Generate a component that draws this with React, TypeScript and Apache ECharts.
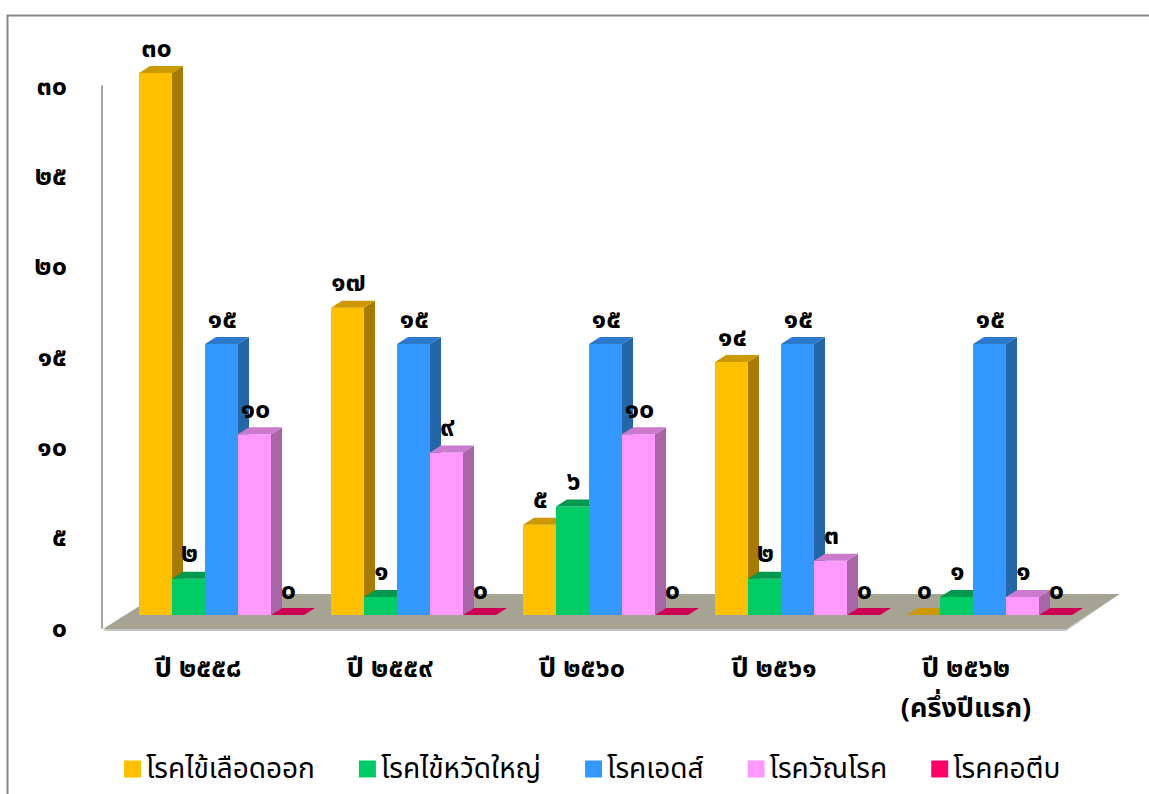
import React, { useEffect, useRef } from "react";
import * as echarts from "echarts";

const categories = ["ปี ๒๕๕๘", "ปี ๒๕๕๙", "ปี ๒๕๖๐", "ปี ๒๕๖๑", "ปี ๒๕๖๒\n(ครึ่งปีแรก)"];
const seriesNames = ["โรคไข้เลือดออก", "โรคไข้หวัดใหญ่", "โรคเอดส์", "โรควัณโรค", "โรคคอตีบ"];
const dengue = [30, 17, 5, 14, 0];
const influenza = [2, 1, 6, 2, 1];
const aids = [15, 15, 15, 15, 15];
const tuberculosis = [10, 9, 10, 3, 1];
const diphtheria = [0, 0, 0, 0, 0];
const yTicks = [0, 5, 10, 15, 20, 25, 30];

const allValues = [dengue, influenza, aids, tuberculosis, diphtheria];
const frontColors = ["#FFC000", "#00CC66", "#3399FF", "#FF99FF", "#FF0066"];
const sideColors = ["#A67C00", "#009950", "#2266A8", "#A866A8", "#A80044"];
const topColors = ["#CC9A00", "#00994D", "#2A7ACC", "#CC7ACC", "#CC0052"];

const THAI = "๐๑๒๓๔๕๖๗๘๙";
const toThai = (n: number | string) => String(n).replace(/\d/g, (d) => THAI[+d]);
const FONT = "'Noto Sans Thai', 'Noto Sans', Tahoma, sans-serif";

const BAR_W = 33;
const DX = 11;
const DY = -7;

export default function App() {
  const ref = useRef<HTMLDivElement>(null);
  useEffect(() => {
    if (!ref.current) return;
    const chart = echarts.init(ref.current, null, { renderer: "svg" });

    const barSeries = allValues.map((vals, si) => ({
      type: "custom",
      name: seriesNames[si],
      xAxisIndex: 1,
      yAxisIndex: 1,
      z: 3 + si,
      itemStyle: { color: frontColors[si] },
      data: vals.map((v, i) => [i, v]),
      renderItem: (params: any, api: any) => {
        const ci = api.value(0);
        const v = api.value(1);
        const base = api.coord([ci, 0]);
        const top = api.coord([ci, v]);
        const xL = base[0] - (BAR_W * 5) / 2 + BAR_W * si;
        const xR = xL + BAR_W;
        const yB = base[1];
        const yT = top[1];
        const children: any[] = [];
        if (v > 0) {
          children.push({
            type: "rect",
            shape: { x: xL, y: yT, width: BAR_W, height: yB - yT },
            style: { fill: frontColors[si] },
          });
          children.push({
            type: "polygon",
            shape: { points: [[xR, yT], [xR + DX, yT + DY], [xR + DX, yB + DY], [xR, yB]] },
            style: { fill: sideColors[si] },
          });
        }
        children.push({
          type: "polygon",
          shape: { points: [[xL, yT], [xL + DX, yT + DY], [xR + DX, yT + DY], [xR, yT]] },
          style: { fill: topColors[si] },
        });
        children.push({
          type: "text",
          x: xL + BAR_W / 2 + 1,
          y: yT - 25,
          style: {
            text: toThai(v),
            fill: "#000",
            font: `bold 27px ${FONT}`,
            align: "center",
            verticalAlign: "middle",
          },
        });
        return { type: "group", children };
      },
    }));

    const floorSeries = {
      type: "custom",
      name: "floor",
      xAxisIndex: 1,
      yAxisIndex: 1,
      z: 1,
      silent: true,
      data: [[0, 0]],
      renderItem: (params: any, api: any) => {
        const cs = params.coordSys;
        const base = api.coord([0, 0]);
        const yB = base[1];
        const left = cs.x;
        const right = cs.x + cs.width;
        return {
          type: "group",
          children: [
            {
              type: "polygon",
              shape: {
                points: [
                  [left - 22.5, yB + 16],
                  [left + 33, yB - 21],
                  [right + 34, yB - 21],
                  [right - 19.5, yB + 16],
                ],
              },
              style: { fill: "#C4C4C4" },
            },
            {
              type: "polygon",
              shape: {
                points: [
                  [left - 22.5, yB + 14],
                  [left + 33, yB - 21],
                  [right + 34, yB - 21],
                  [right - 19.5, yB + 14],
                ],
              },
              style: { fill: "#A6A394" },
            },
          ],
        };
      },
    };

    chart.setOption({
      animation: false,
      graphic: [
        {
          type: "rect",
          shape: { x: 7.5, y: 15.5, width: 1300, height: 1000 },
          style: { fill: "none", stroke: "#878787", lineWidth: 2 },
          silent: true,
        },
      ],
      legend: {
        top: 750,
        left: 119,
        icon: "rect",
        itemWidth: 17,
        itemHeight: 17,
        itemGap: 44,
        data: seriesNames,
        textStyle: { fontSize: 28, color: "#000", fontFamily: FONT },
      },
      grid: [
        { left: 102, top: 86, width: 960, height: 542 },
        { left: 125.5, top: 73, width: 960, height: 542 },
      ],
      xAxis: [
        {
          type: "category",
          gridIndex: 0,
          data: categories,
          axisLine: { show: false },
          axisTick: { show: false },
          axisLabel: {
            margin: 20,
            fontSize: 27,
            lineHeight: 40,
            color: "#000",
            fontFamily: FONT,
            fontWeight: "bold",
            verticalAlign: "top",
          },
        },
        {
          type: "category",
          gridIndex: 1,
          data: categories,
          show: false,
        },
      ],
      yAxis: [
        {
          type: "value",
          gridIndex: 0,
          min: 0,
          max: 30,
          interval: 5,
          axisLine: { show: true, lineStyle: { color: "#A6A6A6", width: 2 } },
          axisTick: { show: false },
          splitLine: { show: false },
          axisLabel: {
            margin: 35,
            fontSize: 27,
            color: "#000",
            fontFamily: FONT,
            fontWeight: "bold",
            padding: [10, 0, 0, 0],
            formatter: (v: number) => (yTicks.includes(v) ? toThai(v) : ""),
          },
        },
        {
          type: "value",
          gridIndex: 1,
          min: 0,
          max: 30,
          interval: 5,
          show: false,
          splitLine: { show: false },
        },
      ],
      series: [floorSeries, ...barSeries],
    });
    return () => chart.dispose();
  }, []);
  return (
    <div
      ref={ref}
      style={{ position: "fixed", left: 0, top: 0, width: 1149, height: 794, background: "#fff" }}
    />
  );
}
